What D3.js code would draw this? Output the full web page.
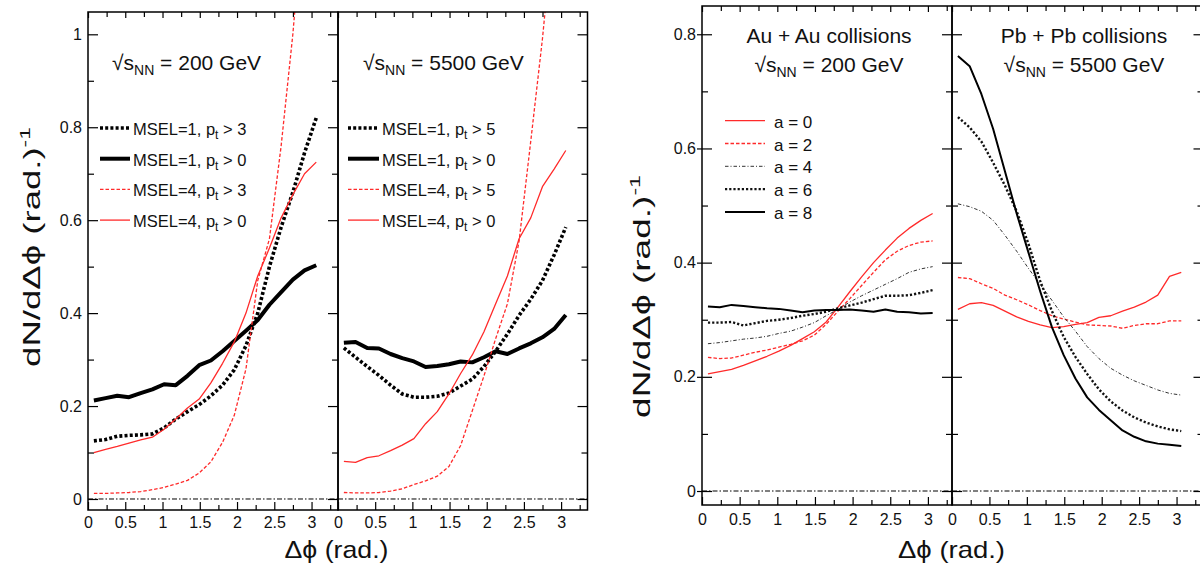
<!DOCTYPE html>
<html>
<head>
<meta charset="utf-8">
<script src="https://cdn.jsdelivr.net/npm/d3@7"></script>
<style>
  body { margin: 0; background: #fff; }
  text { font-family: "Liberation Sans", Arial, Helvetica, sans-serif; fill: #111; }
</style>
</head>
<body>
<svg id="chart" width="1200" height="570"></svg>
<script>
// bin centres in delta phi (rad.)
const dphi = [0.079, 0.236, 0.393, 0.550, 0.707, 0.864, 1.021, 1.178, 1.335, 1.492,
              1.649, 1.806, 1.963, 2.120, 2.278, 2.435, 2.592, 2.749, 2.906, 3.063];

// left figure, sqrt(s_NN) = 200 GeV
const msel1Pt3_200 = [0.125, 0.128, 0.135, 0.137, 0.138, 0.140, 0.153, 0.172, 0.188, 0.203,
                      0.222, 0.245, 0.278, 0.330, 0.400, 0.500, 0.585, 0.660, 0.745, 0.820];
const msel1Pt0_200 = [0.212, 0.217, 0.222, 0.219, 0.228, 0.236, 0.247, 0.245, 0.265, 0.288,
                      0.298, 0.318, 0.340, 0.362, 0.385, 0.418, 0.445, 0.472, 0.492, 0.503];
const msel4Pt3_200 = [0.012, 0.012, 0.013, 0.014, 0.016, 0.020, 0.025, 0.032, 0.040, 0.056,
                      0.080, 0.122, 0.180, 0.280, 0.470, 0.560, 0.760, 1.000, 1.300, null];
const msel4Pt0_200 = [0.100, 0.107, 0.113, 0.120, 0.127, 0.133, 0.150, 0.172, 0.196, 0.215,
                      0.250, 0.292, 0.338, 0.400, 0.480, 0.540, 0.605, 0.655, 0.700, 0.725];

// left figure, sqrt(s_NN) = 5500 GeV
const msel1Pt5_5500 = [0.325, 0.305, 0.285, 0.266, 0.245, 0.226, 0.219, 0.219, 0.221, 0.228,
                       0.243, 0.258, 0.285, 0.318, 0.355, 0.395, 0.430, 0.470, 0.525, 0.585];
const msel1Pt0_5500 = [0.336, 0.338, 0.325, 0.324, 0.312, 0.303, 0.296, 0.284, 0.286, 0.290,
                       0.296, 0.294, 0.305, 0.318, 0.312, 0.324, 0.335, 0.348, 0.366, 0.396];
const msel4Pt5_5500 = [0.014, 0.013, 0.013, 0.014, 0.017, 0.022, 0.031, 0.039, 0.049, 0.070,
                       0.115, 0.190, 0.265, 0.345, 0.420, 0.555, 0.770, 0.990, 1.250, null];
const msel4Pt0_5500 = [0.081, 0.079, 0.089, 0.093, 0.104, 0.116, 0.130, 0.162, 0.188, 0.226,
                       0.270, 0.310, 0.360, 0.420, 0.480, 0.560, 0.605, 0.672, 0.710, 0.750];

// right figure, Au + Au 200 GeV
const auA0 = [0.205, 0.209, 0.213, 0.220, 0.228, 0.236, 0.245, 0.255, 0.267, 0.279,
              0.296, 0.322, 0.349, 0.375, 0.400, 0.422, 0.443, 0.460, 0.474, 0.486];
const auA2 = [0.234, 0.232, 0.233, 0.238, 0.243, 0.247, 0.252, 0.257, 0.263, 0.273,
              0.292, 0.315, 0.337, 0.360, 0.383, 0.405, 0.420, 0.430, 0.436, 0.438];
const auA4 = [0.258, 0.260, 0.263, 0.266, 0.268, 0.271, 0.276, 0.280, 0.287, 0.295,
              0.307, 0.318, 0.331, 0.342, 0.352, 0.362, 0.372, 0.383, 0.389, 0.393];
const auA6 = [0.295, 0.295, 0.296, 0.290, 0.294, 0.298, 0.300, 0.303, 0.307, 0.310,
              0.314, 0.320, 0.325, 0.330, 0.336, 0.342, 0.342, 0.343, 0.347, 0.352];
const auA8 = [0.323, 0.322, 0.326, 0.324, 0.322, 0.320, 0.319, 0.316, 0.313, 0.316,
              0.317, 0.317, 0.318, 0.316, 0.314, 0.318, 0.314, 0.313, 0.311, 0.312];

// right figure, Pb + Pb 5500 GeV
const pbA0 = [0.318, 0.328, 0.330, 0.325, 0.315, 0.305, 0.297, 0.291, 0.286, 0.288,
              0.292, 0.295, 0.304, 0.307, 0.315, 0.322, 0.331, 0.343, 0.376, 0.383];
const pbA2 = [0.374, 0.372, 0.363, 0.355, 0.343, 0.335, 0.326, 0.316, 0.307, 0.301,
              0.296, 0.291, 0.290, 0.289, 0.285, 0.290, 0.293, 0.293, 0.298, 0.298];
const pbA4 = [0.503, 0.498, 0.490, 0.474, 0.448, 0.420, 0.390, 0.362, 0.334, 0.305,
              0.280, 0.253, 0.232, 0.215, 0.203, 0.193, 0.185, 0.177, 0.171, 0.168];
const pbA6 = [0.655, 0.637, 0.612, 0.575, 0.535, 0.490, 0.433, 0.368, 0.315, 0.270,
              0.235, 0.205, 0.178, 0.157, 0.141, 0.129, 0.120, 0.113, 0.108, 0.105];
const pbA8 = [0.762, 0.744, 0.695, 0.634, 0.560, 0.486, 0.418, 0.350, 0.287, 0.238,
              0.197, 0.164, 0.142, 0.124, 0.106, 0.095, 0.087, 0.083, 0.081, 0.079];

// ticks
const xTickValues = [0, 0.5, 1, 1.5, 2, 2.5, 3];
const xTickLabels = ["0", "0.5", "1", "1.5", "2", "2.5", "3"];
const xMinorTicks = [0.25, 0.75, 1.25, 1.75, 2.25, 2.75, 3.25];
const yTickValuesL = [0, 0.2, 0.4, 0.6, 0.8, 1];
const yTickLabelsL = ["0", "0.2", "0.4", "0.6", "0.8", "1"];
const yMinorL = [0.1, 0.3, 0.5, 0.7, 0.9];
const yTickValuesR = [0, 0.2, 0.4, 0.6, 0.8];
const yTickLabelsR = ["0", "0.2", "0.4", "0.6", "0.8"];
const yMinorR = [0.1, 0.3, 0.5, 0.7];

const legendMselA = ["MSEL=1, p|t| > 3", "MSEL=1, p|t| > 0", "MSEL=4, p|t| > 3", "MSEL=4, p|t| > 0"];
const legendMselB = ["MSEL=1, p|t| > 5", "MSEL=1, p|t| > 0", "MSEL=4, p|t| > 5", "MSEL=4, p|t| > 0"];
const legendA = ["a = 0", "a = 2", "a = 4", "a = 6", "a = 8"];

const styles = {
  dotThick:   {color: "#000", width: 3.6, dash: "3,2.2"},
  solidThick: {color: "#000", width: 4, dash: null},
  redDash:    {color: "#ff2a2a", width: 1.3, dash: "3.5,2"},
  redSolid:   {color: "#ff2a2a", width: 1.3, dash: null},
  dashDot:    {color: "#333", width: 1, dash: "3.5,2,1,2"},
  dotMed:     {color: "#111", width: 2.4, dash: "2.2,2"},
  solidMed:   {color: "#000", width: 2, dash: null}
};
const mselStyles = ["dotThick", "solidThick", "redDash", "redSolid"];
const aStyles = ["redSolid", "redDash", "dashDot", "dotMed", "solidMed"];

const svg = d3.select("#chart");
const FONT = '"Liberation Sans", Arial, Helvetica, sans-serif';

function applyStyle(sel, st) {
  sel.attr("fill", "none")
    .attr("stroke", st.color)
    .attr("stroke-width", st.width)
    .attr("stroke-dasharray", st.dash)
    .attr("stroke-linejoin", "round");
}

function makeAxis(g, gen, values, size, labels, pad) {
  gen.tickValues(values).tickSizeInner(size).tickSizeOuter(0).tickPadding(pad)
    .tickFormat(labels ? (d, i) => labels[i] : () => "");
  g.call(gen);
  g.select(".domain").remove();
  g.selectAll("line").attr("stroke-width", 1.2);
  g.attr("font-size", 16).attr("font-family", FONT);
}

function drawPanel(p) {
  const x = d3.scaleLinear().domain([0, p.xMax]).range([p.left, p.right]);
  const y = d3.scaleLinear().domain(p.yDomain).range([p.bottom, p.top]);

  const clipId = "clip-" + p.id;
  svg.append("clipPath").attr("id", clipId).append("rect")
    .attr("x", p.left).attr("y", p.top)
    .attr("width", p.right - p.left).attr("height", p.bottom - p.top);

  // bottom & top x ticks (inward)
  makeAxis(svg.append("g").attr("transform", `translate(0,${p.bottom})`),
    d3.axisBottom(x), xTickValues, -8, xTickLabels, p.xPad);
  makeAxis(svg.append("g").attr("transform", `translate(0,${p.bottom})`),
    d3.axisBottom(x), xMinorTicks, -5, null, 0);
  makeAxis(svg.append("g").attr("transform", `translate(0,${p.top})`),
    d3.axisTop(x), xTickValues, -6, null, 0);
  makeAxis(svg.append("g").attr("transform", `translate(0,${p.top})`),
    d3.axisTop(x), xMinorTicks, -5, null, 0);

  if (p.leftTicks) {
    makeAxis(svg.append("g").attr("transform", `translate(${p.left},0)`),
      d3.axisLeft(y), p.yMajor, -10, p.leftLabels ? p.yLabels : null, 6);
    makeAxis(svg.append("g").attr("transform", `translate(${p.left},0)`),
      d3.axisLeft(y), p.yMinor, -6, null, 0);
    if (p.leftOut) {
      makeAxis(svg.append("g").attr("transform", `translate(${p.left},0)`),
        d3.axisLeft(y), p.yMajor, p.leftOut, null, 0);
    }
  }
  if (p.rightTicks) {
    makeAxis(svg.append("g").attr("transform", `translate(${p.right},0)`),
      d3.axisRight(y), p.yMajor, -10, null, 0);
    makeAxis(svg.append("g").attr("transform", `translate(${p.right},0)`),
      d3.axisRight(y), p.yMinor, -6, null, 0);
  }

  // zero line
  svg.append("line")
    .attr("x1", x(0)).attr("x2", x(p.xMax))
    .attr("y1", y(0)).attr("y2", y(0))
    .attr("stroke", "#000").attr("stroke-width", 1)
    .attr("stroke-dasharray", "5,2,1.5,2");

  const line = d3.line()
    .defined(d => d != null)
    .x((d, i) => x(dphi[i]))
    .y(d => y(d));

  const g = svg.append("g").attr("clip-path", `url(#${clipId})`);
  p.series.forEach(s => {
    g.append("path").datum(s.values).attr("d", line).call(applyStyle, styles[s.style]);
  });

  svg.append("rect")
    .attr("x", p.left).attr("y", p.top)
    .attr("width", p.right - p.left).attr("height", p.bottom - p.top)
    .attr("fill", "none").attr("stroke", "#000").attr("stroke-width", 1.5);
}

// text with "|sub|" markers -> subscript tspans
function richText(sel, str, subSize, subDy) {
  str.split("|").forEach((part, i) => {
    if (!part) return;
    const sub = i % 2 === 1;
    const t = sel.append("tspan").text(part);
    if (sub) t.attr("font-size", subSize).attr("dy", subDy);
    else if (i > 0) t.attr("dy", -subDy);
  });
}

function legend(x1, x2, tx, y0, dy, labels, styleNames, fontSize) {
  labels.forEach((lab, i) => {
    const yy = y0 + i * dy;
    svg.append("line").attr("x1", x1).attr("x2", x2).attr("y1", yy).attr("y2", yy)
      .call(applyStyle, styles[styleNames[i]]);
    const t = svg.append("text").attr("x", tx).attr("y", yy + 7).attr("font-size", fontSize);
    richText(t, lab, 12, 4);
  });
}

function energyLabel(x, y, gev, anchor) {
  const t = svg.append("text").attr("x", x).attr("y", y).attr("font-size", 21)
    .attr("text-anchor", anchor);
  richText(t, "\u221As|NN| = " + gev + " GeV", 14, 5);
}

function yTitle(cx, cy, len) {
  const t = svg.append("text").attr("text-anchor", "middle").attr("font-size", 24);
  t.append("tspan").text("dN/d\u0394\u03D5 (rad.)");
  t.append("tspan").attr("dy", -10).attr("font-size", 15).text("-1");
  const w = t.node().getComputedTextLength();
  t.attr("transform", `translate(${cx},${cy}) rotate(-90) scale(${len / w},1)`);
}

function xTitle(cx, by, len) {
  const t = svg.append("text").attr("text-anchor", "middle").attr("font-size", 24)
    .text("\u0394\u03D5 (rad.)");
  const w = t.node().getComputedTextLength();
  t.attr("transform", `translate(${cx},${by}) scale(${len / w},1)`);
}

// ---- left figure ----
const figL = {top: 12, bottom: 510, yDomain: [-0.0237, 1.048], xMax: 3.355,
  yMajor: yTickValuesL, yMinor: yMinorL, yLabels: yTickLabelsL, xPad: 7};
drawPanel(Object.assign({}, figL, {id: "l1", left: 88, right: 338,
  leftTicks: true, leftLabels: true, rightTicks: true,
  series: [msel1Pt3_200, msel1Pt0_200, msel4Pt3_200, msel4Pt0_200]
    .map((v, i) => ({values: v, style: mselStyles[i]}))}));
drawPanel(Object.assign({}, figL, {id: "l2", left: 338, right: 587.5,
  leftTicks: false, rightTicks: true,
  series: [msel1Pt5_5500, msel1Pt0_5500, msel4Pt5_5500, msel4Pt0_5500]
    .map((v, i) => ({values: v, style: mselStyles[i]}))}));

legend(100, 130, 133, 128, 30.7, legendMselA, mselStyles, 16.5);
legend(348, 379, 382, 128, 30.7, legendMselB, mselStyles, 16.5);
energyLabel(112, 70, "200", "start");
energyLabel(363, 70, "5500", "start");
yTitle(40, 247, 240);
xTitle(336.5, 558, 104);

// ---- right figure ----
const figR = {top: 6, bottom: 505, yDomain: [-0.0245, 0.8495],
  yMajor: yTickValuesR, yMinor: yMinorR, yLabels: yTickLabelsR, xPad: 9};
drawPanel(Object.assign({}, figR, {id: "r1", left: 702, right: 952, xMax: 3.32,
  leftTicks: true, leftLabels: true, leftOut: 5, rightTicks: true,
  series: [auA0, auA2, auA4, auA6, auA8].map((v, i) => ({values: v, style: aStyles[i]}))}));
drawPanel(Object.assign({}, figR, {id: "r2", left: 952, right: 1203.5, xMax: 3.36,
  leftTicks: true, leftLabels: false, rightTicks: true,
  series: [pbA0, pbA2, pbA4, pbA6, pbA8].map((v, i) => ({values: v, style: aStyles[i]}))}));

legend(725, 765, 774, 120.7, 22.8, legendA, aStyles, 17);
svg.append("text").attr("x", 829).attr("y", 42.5).attr("font-size", 21)
  .attr("text-anchor", "middle").text("Au + Au collisions");
energyLabel(829, 71.5, "200", "middle");
svg.append("text").attr("x", 1084).attr("y", 42.5).attr("font-size", 21)
  .attr("text-anchor", "middle").text("Pb + Pb collisions");
energyLabel(1084, 71.5, "5500", "middle");
yTitle(650, 296.5, 243);
xTitle(951.5, 558, 107);
</script>
</body>
</html>
